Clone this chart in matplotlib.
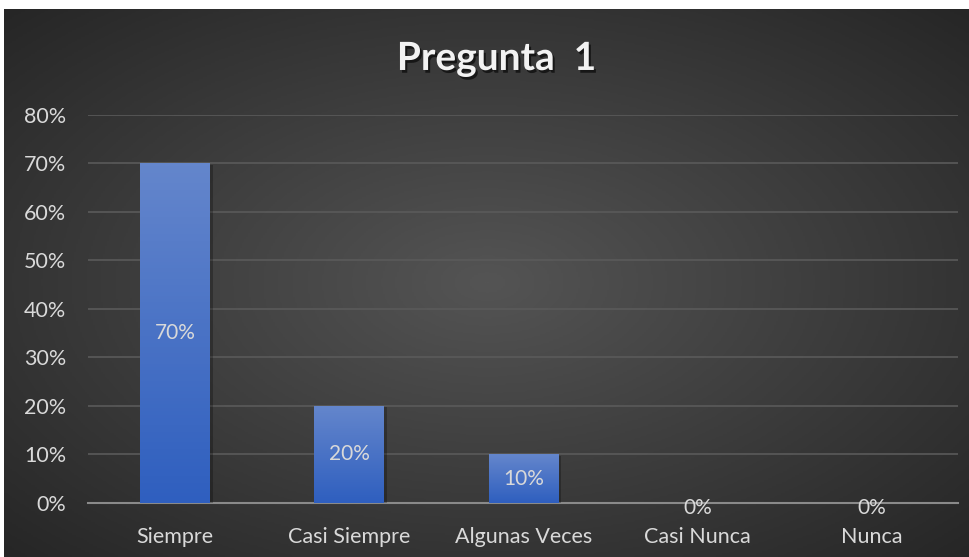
import matplotlib
matplotlib.use("Agg")
import matplotlib.pyplot as plt
import matplotlib.patheffects as pe
from matplotlib.colors import LinearSegmentedColormap
import numpy as np

categories = ["Siempre", "Casi Siempre", "Algunas Veces", "Casi Nunca", "Nunca"]
values = [0.70, 0.20, 0.10, 0.0, 0.0]
yticks = [0, 0.1, 0.2, 0.3, 0.4, 0.5, 0.6, 0.7, 0.8]
title = "Pregunta  1"

plt.rcParams['font.family'] = ['Lato', 'DejaVu Sans']
txt = '#d9d9d9'

fig = plt.figure(figsize=(9.7, 5.57), dpi=100)
fig.patch.set_facecolor('white')

# dark radial background
bg = fig.add_axes([0.004, 0, 0.996, 0.984])
yy, xx = np.mgrid[-1:1:300j, -1:1:500j]
r = np.sqrt(xx ** 2 + yy ** 2) / np.sqrt(2)
bg_cmap = LinearSegmentedColormap.from_list('bg', ['#545454', '#3d3d3d', '#262626'])
bg.imshow(r, cmap=bg_cmap, aspect='auto', extent=[0, 1, 0, 1])
bg.set_axis_off()

ax = fig.add_axes([0.091, 0.097, 0.897, 0.697])
ax.set_facecolor('none')
x = np.arange(len(categories))
bars = ax.bar(x, values, width=0.4, color='#4472c4', zorder=3,
              path_effects=[pe.SimplePatchShadow(offset=(2, -1), shadow_rgbFace='black', alpha=0.25), pe.Normal()])

bar_cmap = LinearSegmentedColormap.from_list('bar', ['#2f5fbf', '#6486cc'])
grad = np.linspace(0, 1, 100).reshape(-1, 1)
for b in bars:
    if b.get_height() <= 0:
        continue
    im = ax.imshow(grad, cmap=bar_cmap, origin='lower', aspect='auto', zorder=4,
                   extent=[b.get_x(), b.get_x() + b.get_width(), 0, b.get_height()])
    im.set_clip_path(b)

for xi, v in zip(x, values):
    if v > 0:
        ax.text(xi, v / 2, f"{v:.0%}", ha='center', va='center', color=txt, fontsize=15, zorder=5)
    else:
        ax.text(xi, v - 0.01, f"{v:.0%}", ha='center', va='center', color=txt, fontsize=15, zorder=5)

ax.set_xlim(-0.5, len(categories) - 0.5)
ax.set_ylim(0, 0.8)
ax.set_yticks(yticks)
ax.set_yticklabels([f"{t:.0%}" for t in yticks])
ax.set_xticks(x)
ax.set_xticklabels(categories)
ax.tick_params(colors=txt, labelsize=15.5, length=0)
ax.tick_params(axis='x', pad=17)
ax.tick_params(axis='y', pad=16)
ax.grid(axis='y', color='#5a5a5a', linewidth=1.2, zorder=0)
for s in ['top', 'right', 'left']:
    ax.spines[s].set_visible(False)
ax.spines['bottom'].set_color('#8a8a8a')
ax.spines['bottom'].set_linewidth(1.5)
ax.spines['bottom'].set_zorder(2)

fig.text(0.512, 0.895, title, ha='center', va='center', color='#f2f2f2', fontsize=28,
         fontweight='bold',
         path_effects=[pe.withSimplePatchShadow(offset=(1.5, -2), shadow_rgbFace='black', alpha=0.6)])

plt.savefig('out.png', dpi=100, facecolor=fig.get_facecolor())
